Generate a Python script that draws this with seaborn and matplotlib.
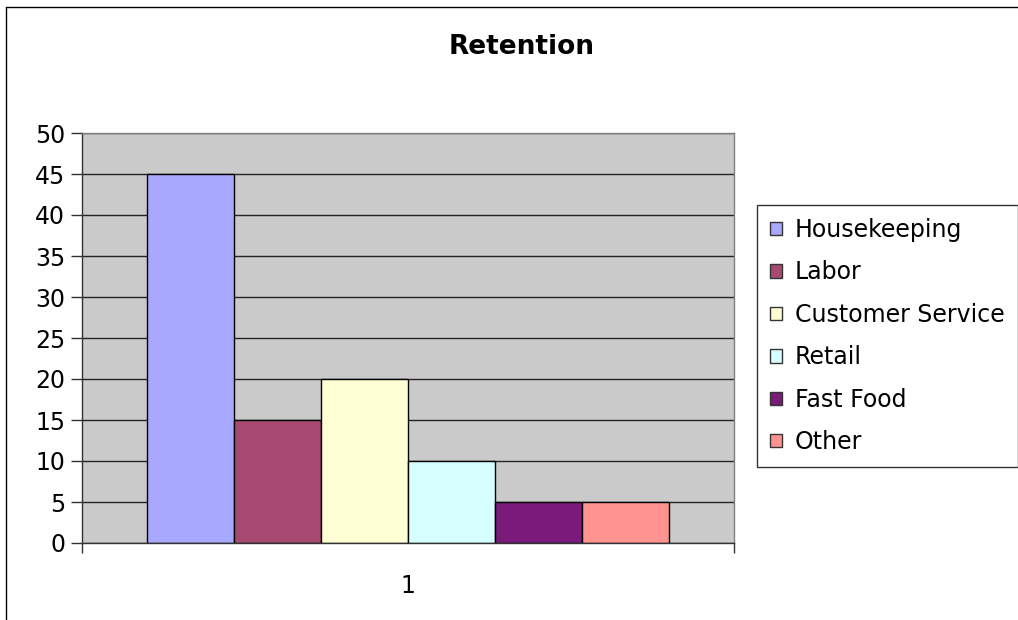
import matplotlib
matplotlib.use("Agg")
import matplotlib.pyplot as plt
from matplotlib.lines import Line2D
import seaborn as sns
import pandas as pd

# ---- data ----
categories = ["Housekeeping", "Labor", "Customer Service", "Retail", "Fast Food", "Other"]
values = [45, 15, 20, 10, 5, 5]
group_label = ["1"] * len(categories)
colors = ["#A8A8FF", "#A64A72", "#FFFFD6", "#D6FFFF", "#7A1A7A", "#FF938F"]
y_ticks = [0, 5, 10, 15, 20, 25, 30, 35, 40, 45, 50]
title = "Retention"

df = pd.DataFrame({"group": group_label, "category": categories, "value": values})

sns.set_style("white")
plt.rcParams["font.family"] = ["DejaVu Sans"]
plt.rcParams["text.color"] = "black"
plt.rcParams["xtick.color"] = "black"
plt.rcParams["ytick.color"] = "black"
plt.rcParams["xtick.labelcolor"] = "black"
plt.rcParams["ytick.labelcolor"] = "black"

W, H = 1018, 620
fig = plt.figure(figsize=(W / 100, H / 100), dpi=100)
ax = fig.add_axes([82 / W, 1 - 543 / H, (734 - 82) / W, (543 - 133) / H])

sns.barplot(data=df, x="group", y="value", hue="category", hue_order=categories,
            palette=colors, edgecolor="black", linewidth=1, width=0.8, gap=0,
            saturation=1, ax=ax, legend=True, errorbar=None)

ax.set_facecolor("#CACACA")
ax.set_xlim(-0.5, 0.5)
ax.set_ylim(0, 50)
ax.set_yticks(y_ticks)
ax.set_yticklabels([str(t) for t in y_ticks])
ax.yaxis.grid(True, color="#222222", linewidth=1)
ax.xaxis.grid(False)
ax.set_axisbelow(True)
ax.set_xlabel("")
ax.set_ylabel("")

ax.tick_params(axis="y", which="major", direction="out", length=8, width=1,
               color="#333333", labelcolor="black", labelsize=17, pad=4, left=True)
ax.set_xticks([0])
ax.set_xticklabels(["1"])
ax.tick_params(axis="x", which="major", length=0, labelsize=17, pad=22,
               labelcolor="black")
ax.set_xticks([-0.5, 0.5], minor=True)
ax.tick_params(axis="x", which="minor", direction="out", length=7, width=1,
               color="#333333", bottom=True)

for side in ["top", "right"]:
    ax.spines[side].set_color("#808080")
    ax.spines[side].set_linewidth(1)
for side in ["left", "bottom"]:
    ax.spines[side].set_color("#333333")
    ax.spines[side].set_linewidth(1)

# legend
handles, labels = ax.get_legend_handles_labels()
if ax.legend_:
    ax.legend_.remove()
leg = fig.legend(handles, labels, loc="upper left",
                 bbox_to_anchor=(757 / W, 1 - 205 / H), bbox_transform=fig.transFigure,
                 fontsize=17, frameon=True, fancybox=False, framealpha=1,
                 edgecolor="#333333", handlelength=0.5, handleheight=0.5,
                 handletextpad=0.55, labelspacing=0.78, borderpad=0.55,
                 borderaxespad=0)
leg.get_frame().set_linewidth(1)
for t in leg.get_texts():
    t.set_color("black")
for h in leg.legend_handles:
    h.set_edgecolor("#333333")
    h.set_linewidth(1)

fig.text(522 / W, 1 - 47 / H, title, ha="center", va="center",
         fontsize=19, fontweight="bold", color="black")

# chart area border
fig.add_artist(Line2D([6 / W, 6 / W], [0, 1 - 7 / H], transform=fig.transFigure,
                      color="black", linewidth=1))
fig.add_artist(Line2D([6 / W, 1], [1 - 7 / H, 1 - 7 / H], transform=fig.transFigure,
                      color="black", linewidth=1))

fig.savefig("out.png", dpi=100)
